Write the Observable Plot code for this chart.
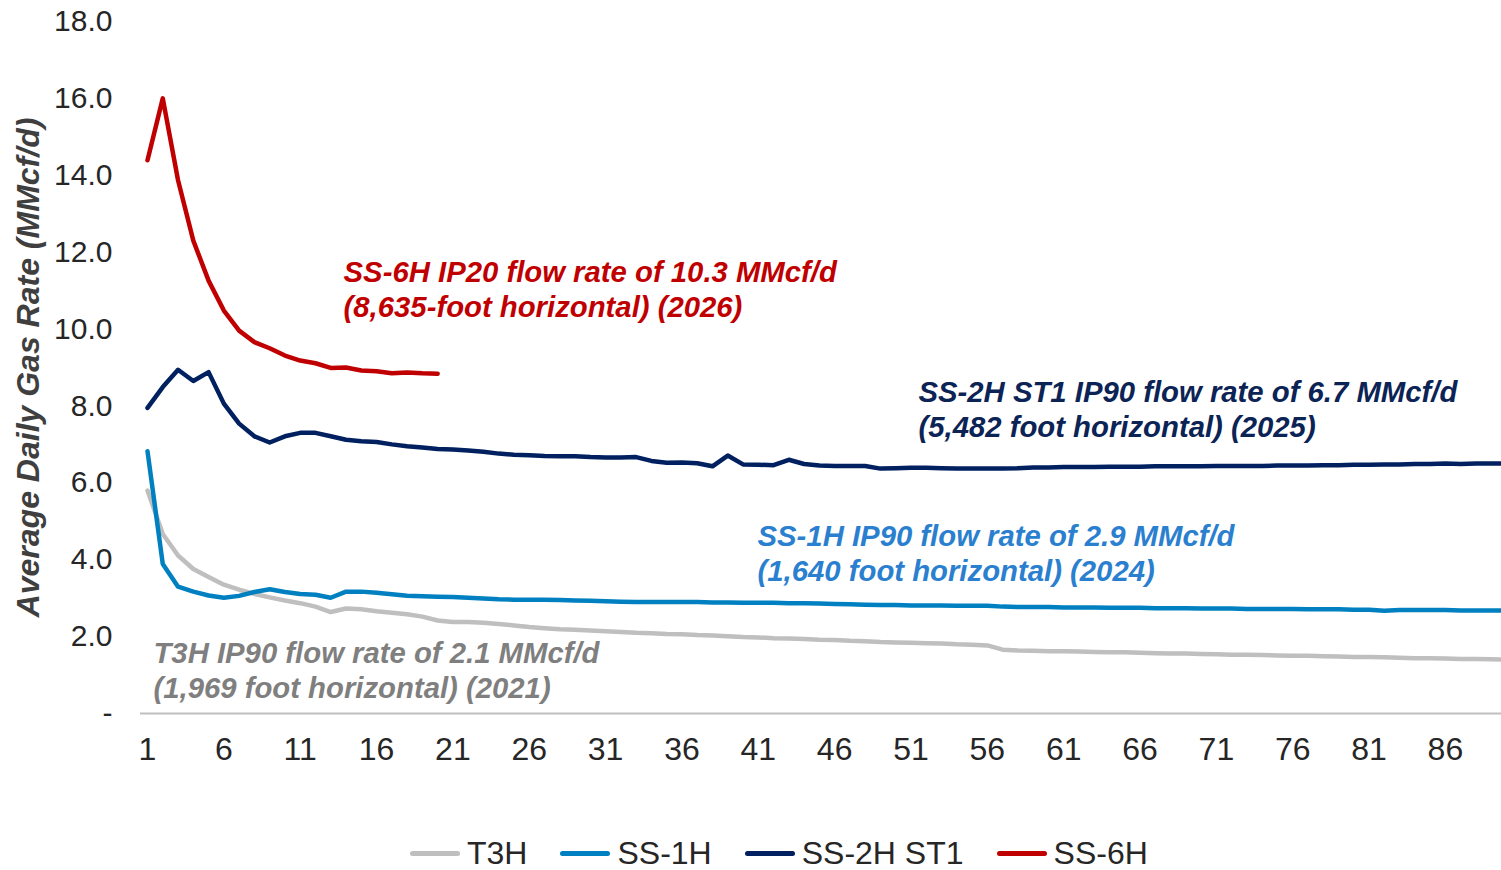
<!DOCTYPE html>
<html>
<head>
<meta charset="utf-8">
<script src="https://cdn.jsdelivr.net/npm/d3@7"></script>
<script src="https://cdn.jsdelivr.net/npm/@observablehq/plot@0.6"></script>
<style>
  html, body { margin: 0; padding: 0; background: #fff; overflow: hidden; }
  #wrap { position: relative; width: 1501px; height: 870px; }
  #legend { position: absolute; left: 410px; top: 837px; height: 32px; display: flex; align-items: center;
    font-family: "Liberation Sans Narrow", "Arial Narrow", "Liberation Sans", sans-serif; font-size: 32px; line-height: 32px; color: #262626; }
  .item { display: flex; align-items: center; margin-right: 33px; height: 32px; }
  .item span { line-height: 32px; }
  .sw { width: 50px; height: 5px; border-radius: 3px; margin-right: 7px; }
</style>
</head>
<body>
<div id="wrap"><div id="chart"></div><div id="legend"></div></div>
<script>
// ---- data ----
const days = d3.range(1, 91); // production day 1..90
const seriesNames = ["T3H", "SS-1H", "SS-2H ST1", "SS-6H"];
const seriesColors = ["#bfbfbf", "#0080c0", "#002060", "#c00000"];

const t3h = [5.80,4.67,4.11,3.76,3.55,3.35,3.22,3.11,3.02,2.94,
  2.87,2.78,2.64,2.73,2.71,2.66,2.62,2.58,2.52,2.42,
  2.38,2.38,2.36,2.33,2.29,2.25,2.22,2.19,2.18,2.16,
  2.14,2.12,2.10,2.09,2.07,2.06,2.04,2.03,2.01,1.99,
  1.98,1.96,1.95,1.94,1.92,1.91,1.89,1.88,1.86,1.85,
  1.84,1.83,1.82,1.80,1.79,1.77,1.66,1.64,
  1.63,1.62,1.62,1.61,1.60,1.59,1.59,1.58,
  1.57,1.56,1.56,1.55,1.54,1.53,1.53,1.52,
  1.51,1.50,1.50,1.49,1.48,1.47,1.47,1.46,
  1.45,1.44,1.44,1.43,1.42,1.42,1.41,1.40];

const ss1h = [6.82,3.89,3.30,3.17,3.07,3.01,3.06,3.16,3.23,3.16,
  3.11,3.09,3.01,3.17,3.17,3.14,3.10,3.06,3.05,3.04,
  3.03,3.01,2.99,2.97,2.96,2.96,2.96,2.95,2.94,2.93,
  2.92,2.91,2.90,2.90,2.90,2.90,2.90,2.89,
  2.89,2.88,2.88,2.88,2.87,2.87,2.86,2.85,2.84,2.83,2.82,
  2.82,2.81,2.81,2.81,2.80,2.80,2.80,2.78,2.77,
  2.77,2.77,2.76,2.76,2.76,2.75,2.75,2.75,
  2.74,2.74,2.74,2.73,2.73,2.73,2.72,2.72,
  2.72,2.72,2.71,2.71,2.71,2.70,2.70,2.67,
  2.69,2.69,2.69,2.69,2.68,2.68,2.68,2.68];

const ss2h = [7.95,8.49,8.94,8.65,8.88,8.06,7.54,7.21,7.05,7.21,
  7.30,7.30,7.21,7.12,7.08,7.06,7.00,6.95,6.92,6.88,
  6.87,6.84,6.81,6.76,6.73,6.72,6.70,6.69,6.69,6.67,
  6.66,6.66,6.67,6.57,6.52,6.53,6.51,6.43,6.71,6.48,
  6.47,6.46,6.60,6.49,6.45,6.44,6.44,6.44,6.37,6.38,
  6.39,6.39,6.38,6.37,6.37,6.37,6.37,6.38,6.40,
  6.40,6.41,6.41,6.41,6.42,6.42,6.42,6.43,
  6.43,6.43,6.43,6.44,6.44,6.44,6.44,6.45,
  6.45,6.45,6.46,6.46,6.47,6.47,6.48,6.48,
  6.49,6.49,6.50,6.49,6.50,6.50,6.50];

const ss6h = [14.39,16.00,13.87,12.30,11.26,10.48,9.96,9.66,9.50,9.31,
  9.18,9.11,8.99,9.00,8.92,8.90,8.85,8.87,8.85,8.84];

const seriesValues = [t3h, ss1h, ss2h, ss6h];

const xTicks = [1,6,11,16,21,26,31,36,41,46,51,56,61,66,71,76,81,86];
const yTicks = [0,2,4,6,8,10,12,14,16,18];
const yTickLabels = ["-","2.0","4.0","6.0","8.0","10.0","12.0","14.0","16.0","18.0"];
const yTitle = "Average Daily Gas Rate (MMcf/d)";

const annoText = [
  "T3H IP90 flow rate of 2.1 MMcf/d\n(1,969 foot horizontal) (2021)",
  "SS-1H IP90 flow rate of 2.9 MMcf/d\n(1,640 foot horizontal) (2024)",
  "SS-2H ST1 IP90 flow rate of 6.7 MMcf/d\n(5,482 foot horizontal) (2025)",
  "SS-6H IP20 flow rate of 10.3 MMcf/d\n(8,635-foot horizontal) (2026)"
];
const annoDay = [1.39, 40.95, 51.49, 13.84];
const annoValue = [1.16, 4.20, 7.95, 11.07];
const annoColors = ["#7f7f7f", "#2b7fcf", "#0b2355", "#c00000"];

// ---- build table ----
const rows = seriesNames.flatMap((s, i) => seriesValues[i].map((v, j) => ({day: days[j], value: v, series: s})));
const annos = annoText.map((t, i) => ({text: t, day: annoDay[i], value: annoValue[i], color: annoColors[i]}));

const narrow = '"Liberation Sans Narrow", "Arial Narrow", "Liberation Sans", sans-serif';
const sans = '"Liberation Sans", Arial, sans-serif';

const chart = Plot.plot({
  width: 1501,
  height: 836,
  marginLeft: 147,
  marginRight: 0,
  marginTop: 21,
  marginBottom: 123,
  style: {background: "#fff", fontFamily: sans},
  x: {domain: [1, 90], range: [147, 1506]},
  y: {domain: [0, 18]},
  color: {domain: seriesNames, range: seriesColors},
  marks: [
    Plot.ruleY([0], {stroke: "#bfbfbf", strokeWidth: 2, insetLeft: -7}),
    Plot.axisY({ticks: yTicks, tickFormat: d => yTickLabels[yTicks.indexOf(d)], tickSize: 0, tickPadding: 35,
      fontSize: 30, fill: "#262626", label: null}),
    Plot.axisX({ticks: xTicks, tickFormat: d => String(d), tickSize: 0, tickPadding: 24,
      fontSize: 32, fontFamily: narrow, fill: "#262626", label: null}),
    Plot.text([yTitle], {frameAnchor: "left", rotate: -90, dx: -119, fontSize: 32, fontWeight: "bold",
      fontStyle: "italic", fill: "#3f3f3f", textAnchor: "middle", lineAnchor: "middle"}),
    Plot.line(rows, {x: "day", y: "value", z: "series", stroke: "series", strokeWidth: 4.5,
      strokeLinejoin: "round", strokeLinecap: "round"}),
    Plot.text(annos, {x: "day", y: "value", text: "text", fill: "color", textAnchor: "start", lineAnchor: "middle",
      fontSize: 29.3, fontWeight: "bold", fontStyle: "italic", lineHeight: 1.2})
  ]
});
document.getElementById("chart").appendChild(chart);

// ---- legend ----
const legend = document.getElementById("legend");
seriesNames.forEach((s, i) => {
  const it = document.createElement("div");
  it.className = "item";
  const sw = document.createElement("div");
  sw.className = "sw";
  sw.style.background = seriesColors[i];
  const tx = document.createElement("span");
  tx.textContent = s;
  it.appendChild(sw); it.appendChild(tx);
  legend.appendChild(it);
});
</script>
</body>
</html>
